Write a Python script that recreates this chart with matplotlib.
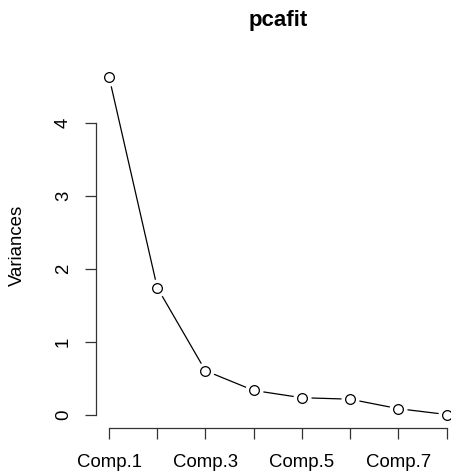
import matplotlib
matplotlib.use('Agg')
import matplotlib.pyplot as plt

# Scree plot of the principal component variances
components = ['Comp.1', 'Comp.2', 'Comp.3', 'Comp.4',
              'Comp.5', 'Comp.6', 'Comp.7', 'Comp.8']
variances = [4.64, 1.75, 0.61, 0.34, 0.24, 0.22, 0.09, 0.01]
x_labels = ['Comp.1', '', 'Comp.3', '', 'Comp.5', '', 'Comp.7', '']
y_ticks = [0, 1, 2, 3, 4]

plt.rcParams['font.family'] = ['Liberation Sans', 'DejaVu Sans']

fig = plt.figure(figsize=(4.52, 4.76), dpi=100)
ax = fig.add_axes([0.2113, 0.1008, 0.8064, 0.7666])

xs = list(range(1, len(components) + 1))
ax.plot(xs, variances, color='black', linewidth=0.9, zorder=2)
# white halo so the line stops short of each point
ax.plot(xs, variances, linestyle='none', marker='o', markersize=12,
        markerfacecolor='white', markeredgecolor='white', zorder=3)
ax.plot(xs, variances, linestyle='none', marker='o', markersize=7,
        markerfacecolor='white', markeredgecolor='black',
        markeredgewidth=0.9, zorder=4)

span = max(variances) - min(variances)
ax.set_xlim(1 - 0.04 * 7, len(components) + 0.04 * 7)
ax.set_ylim(min(variances) - 0.04 * span, max(variances) + 0.04 * span)

ax.set_xticks(xs)
ax.set_xticklabels(x_labels)
ax.set_yticks(y_ticks)
ax.set_yticklabels([str(v) for v in y_ticks], rotation=90, va='center')

for side in ['top', 'right']:
    ax.spines[side].set_visible(False)
ax.spines['left'].set_bounds(0, 4)
ax.spines['bottom'].set_bounds(1, len(components))
for side in ['left', 'bottom']:
    ax.spines[side].set_linewidth(0.9)
    ax.spines[side].set_color('#333333')

ax.tick_params(axis='both', direction='out', length=8, width=0.9,
               color='#333333', labelsize=13.4)
ax.tick_params(axis='x', pad=11)
ax.tick_params(axis='y', pad=9)

ax.set_ylabel('Variances', fontsize=13.4, labelpad=21)
ax.set_title('pcafit', fontsize=16, fontweight='bold', pad=27)

fig.savefig('out.png', dpi=100)
